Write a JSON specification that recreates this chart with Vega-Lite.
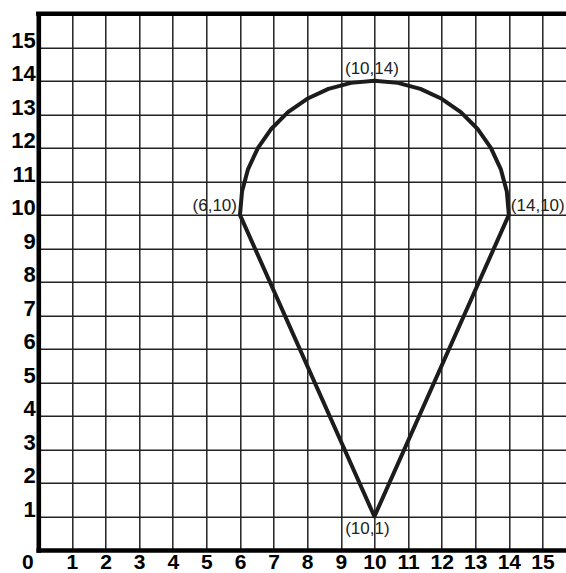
{
  "$schema": "https://vega.github.io/schema/vega-lite/v6.json",
  "width": 527.7,
  "height": 536.2,
  "autosize": {"type": "none"},
  "padding": {"left": 38.3, "top": 13.8, "right": 0, "bottom": 23},
  "background": "white",
  "config": {"view": {"stroke": null}},
  "encoding": {
    "x": {
      "field": "x", "type": "quantitative",
      "scale": {"domain": [0, 15.7], "nice": false, "zero": false},
      "axis": {
        "title": null,
        "values": [0,1,2,3,4,5,6,7,8,9,10,11,12,13,14,15],
        "grid": true, "gridColor": "#222222", "gridWidth": 1.5, "gridOpacity": 1,
        "ticks": false,
        "domain": true, "domainColor": "#000000", "domainWidth": 4.6, "domainCap": "square",
        "labelFont": "Liberation Sans", "labelFontWeight": 900, "labelFontSize": 21, "labelColor": "#000000",
        "labelPadding": 1.5,
        "labelAlign": {"condition": {"test": "datum.value == 0", "value": "right"}, "value": "center"},
        "labelOffset": {"condition": {"test": "datum.value == 0", "value": -5}, "value": 0},
        "labelFlush": false, "labelOverlap": false
      }
    },
    "y": {
      "field": "y", "type": "quantitative",
      "scale": {"domain": [0, 16], "nice": false, "zero": false},
      "axis": {
        "title": null,
        "values": [0,1,2,3,4,5,6,7,8,9,10,11,12,13,14,15],
        "labelExpr": "datum.value == 0 ? '' : datum.label",
        "grid": true, "gridColor": "#222222", "gridWidth": 1.5, "gridOpacity": 1,
        "ticks": false,
        "domain": true, "domainColor": "#000000", "domainWidth": 4.6, "domainCap": "square",
        "labelFont": "Liberation Sans", "labelFontWeight": 900, "labelFontSize": 22, "labelColor": "#000000",
        "labelPadding": 3, "labelBaseline": "alphabetic",
        "labelFlush": false, "labelOverlap": false
      }
    }
  },
  "layer": [
    {
      "data": {"values": [
        {"i": 0, "x": 6, "y": 10},
        {"i": 1, "x": 6.061, "y": 10.695},
        {"i": 2, "x": 6.241, "y": 11.368},
        {"i": 3, "x": 6.536, "y": 12},
        {"i": 4, "x": 6.936, "y": 12.571},
        {"i": 5, "x": 7.429, "y": 13.064},
        {"i": 6, "x": 8, "y": 13.464},
        {"i": 7, "x": 8.632, "y": 13.759},
        {"i": 8, "x": 9.305, "y": 13.939},
        {"i": 9, "x": 10, "y": 14},
        {"i": 10, "x": 10.695, "y": 13.939},
        {"i": 11, "x": 11.368, "y": 13.759},
        {"i": 12, "x": 12, "y": 13.464},
        {"i": 13, "x": 12.571, "y": 13.064},
        {"i": 14, "x": 13.064, "y": 12.571},
        {"i": 15, "x": 13.464, "y": 12},
        {"i": 16, "x": 13.759, "y": 11.368},
        {"i": 17, "x": 13.939, "y": 10.695},
        {"i": 18, "x": 14, "y": 10},
        {"i": 19, "x": 10, "y": 1},
        {"i": 20, "x": 6, "y": 10}
      ]},
      "mark": {"type": "line", "strokeWidth": 4, "color": "#1c1c1c", "strokeJoin": "round", "strokeCap": "round", "interpolate": "linear"},
      "encoding": {
        "order": {"field": "i", "type": "quantitative"}
      }
    },
    {
      "data": {"values": [{"x": 0, "x2": 15.7, "y": 16}]},
      "mark": {"type": "rule", "strokeWidth": 4.4, "color": "#000000", "strokeCap": "square"},
      "encoding": {"x2": {"field": "x2"}}
    },
    {
      "data": {"values": [{"x": 10, "y": 14, "label": "(10,14)"}]},
      "mark": {"type": "text", "font": "Liberation Sans", "fontSize": 17, "color": "#222222", "align": "center", "baseline": "alphabetic", "dx": -2.5, "dy": -7},
      "encoding": {"text": {"field": "label"}}
    },
    {
      "data": {"values": [{"x": 6, "y": 10, "label": "(6,10)"}]},
      "mark": {"type": "text", "font": "Liberation Sans", "fontSize": 17, "color": "#222222", "align": "right", "baseline": "alphabetic", "dx": -3, "dy": -4},
      "encoding": {"text": {"field": "label"}}
    },
    {
      "data": {"values": [{"x": 14, "y": 10, "label": "(14,10)"}]},
      "mark": {"type": "text", "font": "Liberation Sans", "fontSize": 17, "color": "#222222", "align": "left", "baseline": "alphabetic", "dx": 2, "dy": -4},
      "encoding": {"text": {"field": "label"}}
    },
    {
      "data": {"values": [{"x": 10, "y": 1, "label": "(10,1)"}]},
      "mark": {"type": "text", "font": "Liberation Sans", "fontSize": 17, "color": "#222222", "align": "center", "baseline": "alphabetic", "dx": -7, "dy": 17.5},
      "encoding": {"text": {"field": "label"}}
    }
  ]
}
